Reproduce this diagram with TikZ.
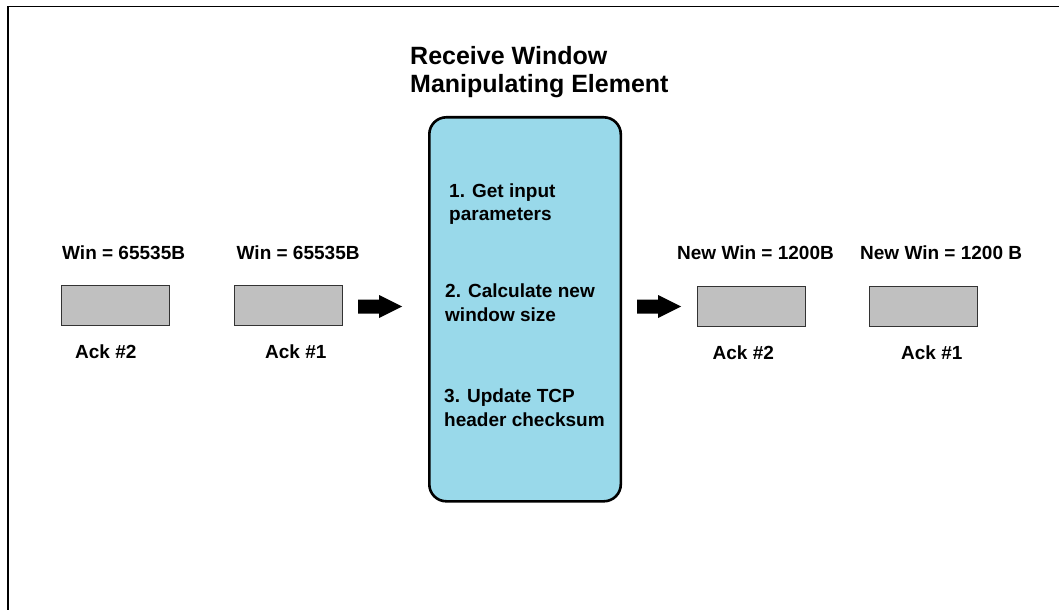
\documentclass[tikz,border=0pt]{standalone}
\usepackage{fontspec}
\setmainfont{Liberation Sans}
\definecolor{stepblue}{RGB}{153,217,234}
\definecolor{packetgray}{RGB}{192,192,192}
\begin{document}
\begin{tikzpicture}[x=1bp,y=-1bp,
  packet/.style={draw=black!80, line width=1.3bp, fill=packetgray,
    minimum width=108bp, minimum height=40bp, inner sep=0pt, anchor=north west},
  element/.style={draw=black, line width=2.6bp, rounded corners=17bp, fill=stepblue,
    minimum width=191.5bp, minimum height=384bp, inner sep=0pt, anchor=north west},
  lbl/.style={anchor=base west, inner sep=0pt, font=\fontsize{19bp}{23bp}\selectfont\bfseries},
  ttl/.style={anchor=base west, inner sep=0pt, font=\fontsize{25bp}{23bp}\selectfont\bfseries},
  blockarrow/.pic={\fill[black] (0,-7) -- (21,-7) -- (21,-11.5) -- (44,0) -- (21,11.5) -- (21,7) -- (0,7) -- cycle;}
]
\useasboundingbox (0,0) rectangle (1059,610);

% frame
\draw[line width=1.6bp] (8,610) -- (8,6.5) -- (1059,6.5);

% title
\node[ttl] (title1) at (410,65) {Receive Window};
\node[ttl] (title2) at (410,93) {Manipulating Element};

% processing element
\node[element] (elem) at (428,116) {};
\node[lbl] (s1a) at (449,198) {1. Get input};
\node[lbl] (s1b) at (449,221) {parameters};
\node[lbl] (s2a) at (445,298) {2. Calculate new};
\node[lbl] (s2b) at (445,321) {window size};
\node[lbl] (s3a) at (444,402) {3. Update TCP};
\node[lbl] (s3b) at (444,426) {header checksum};

% incoming packets
\node[packet] (in2) at (60.5,284.5) {};
\node[packet] (in1) at (233.5,284.5) {};
\node[lbl] (win2) at (62,260) {Win = 65535B};
\node[lbl] (win1) at (236.5,260) {Win = 65535B};
\node[lbl] (ack2) at (75,358) {Ack \#2};
\node[lbl] (ack1) at (265,358) {Ack \#1};

% outgoing packets
\node[packet] (out2) at (696.5,285.5) {};
\node[packet] (out1) at (868.5,285.5) {};
\node[lbl] (nwin2) at (677,260) {New Win = 1200B};
\node[lbl] (nwin1) at (860,260) {New Win = 1200 B};
\node[lbl] (oack2) at (712.5,359) {Ack \#2};
\node[lbl] (oack1) at (901,359) {Ack \#1};

% flow arrows
\coordinate (arrin) at (358,306.5);
\coordinate (arrout) at (637,306.5);
\pic at (arrin) {blockarrow};
\pic at (arrout) {blockarrow};
\end{tikzpicture}
\end{document}
